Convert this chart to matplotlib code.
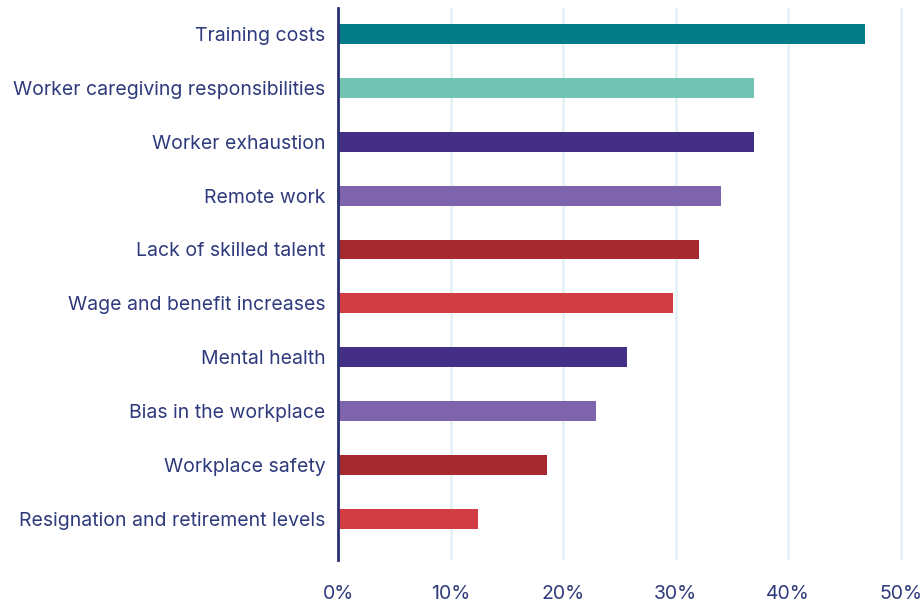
import matplotlib.pyplot as plt

categories = [
    "Training costs",
    "Worker caregiving responsibilities",
    "Worker exhaustion",
    "Remote work",
    "Lack of skilled talent",
    "Wage and benefit increases",
    "Mental health",
    "Bias in the workplace",
    "Workplace safety",
    "Resignation and retirement levels",
]
values = [46.8, 37.0, 37.0, 34.0, 32.1, 29.8, 25.7, 22.9, 18.6, 12.4]
colors = ["#037C87", "#72C3B3", "#442F87", "#7E64AD", "#A5292F",
          "#D13D42", "#442F87", "#7E64AD", "#A5292F", "#D13D42"]
xticks = [0, 10, 20, 30, 40, 50]
xtick_labels = ["0%", "10%", "20%", "30%", "40%", "50%"]

text_color = "#2E3A7C"
plt.rcParams["font.family"] = ["Inter", "DejaVu Sans"]

fig = plt.figure(figsize=(9.21, 6.05), dpi=100)
ax = fig.add_axes([338 / 921, 1 - 560 / 605, 1 - 338 / 921, 552 / 605])

y = list(range(len(categories)))
ax.barh(y, values, height=0.37, color=colors, zorder=3)

ax.set_ylim(9.76, -0.48)
ax.set_xlim(0, 51.8)
ax.set_yticks(y)
ax.set_yticklabels(categories, fontsize=14, color=text_color)
ax.set_xticks(xticks)
ax.set_xticklabels(xtick_labels, fontsize=14, color=text_color)
ax.tick_params(axis="both", length=0)
ax.tick_params(axis="y", pad=9)
ax.tick_params(axis="x", pad=18)

ax.grid(axis="x", color="#E2F1F6", linewidth=1.8, zorder=0)
for s in ["top", "right", "bottom"]:
    ax.spines[s].set_visible(False)
ax.spines["left"].set_color("#2A3172")
ax.spines["left"].set_linewidth(2)
ax.spines["left"].set_zorder(4)

fig.savefig("out.png", dpi=100)
